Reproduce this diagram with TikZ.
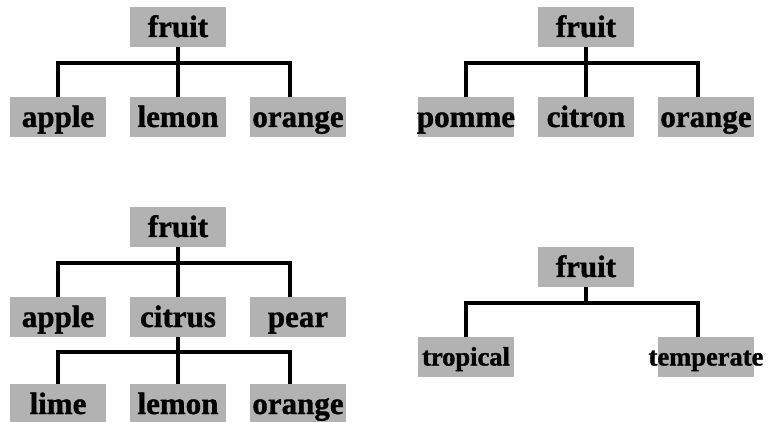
\documentclass[tikz,border=0pt]{standalone}
\usepackage{fontspec}
\setmainfont{Liberation Serif}[BoldFeatures={FakeBold=1.2}]
\begin{document}
\begin{tikzpicture}[x=1pt, y=-1pt,
    every node/.style={font=\fontsize{31}{36}\selectfont\bfseries},
    fruitbox/.style={fill=black!30, inner sep=0pt, minimum width=96pt, minimum height=40pt, text height=24pt, text depth=4pt},
    smallbox/.style={fruitbox, font=\fontsize{26.5}{30}\selectfont\bfseries, text height=20pt, text depth=3pt},
    branch/.style={line width=3.5pt}]
	\useasboundingbox (0,0) rectangle (769,422);
	
	% Tree 1: english names
	\node[fruitbox] (fruitA) at (178,27) {fruit};
	\node[fruitbox] (appleA) at (58,117) {apple};
	\node[fruitbox] (lemonA) at (178,117) {lemon};
	\node[fruitbox] (orangeA) at (298,117) {orange};
	\draw[branch] (fruitA.south) -- ++(0,16) -| (appleA.north);
	\draw[branch] (fruitA.south) -- (lemonA.north);
	\draw[branch] (fruitA.south) -- ++(0,16) -| ([xshift=-8pt]orangeA.north);
	
	% Tree 2: french names
	\node[fruitbox] (fruitB) at (586,27) {fruit};
	\node[fruitbox] (pommeB) at (466,117) {\makebox[0pt]{pomme}};
	\node[fruitbox] (citronB) at (586,117) {citron};
	\node[fruitbox] (orangeB) at (706,117) {orange};
	\draw[branch] (fruitB.south) -- ++(0,16) -| (pommeB.north);
	\draw[branch] (fruitB.south) -- (citronB.north);
	\draw[branch] (fruitB.south) -- ++(0,16) -| ([xshift=-8pt]orangeB.north);
	
	% Tree 3: two levels
	\node[fruitbox] (fruitC) at (178,227) {fruit};
	\node[fruitbox] (appleC) at (58,317) {apple};
	\node[fruitbox] (citrusC) at (178,317) {citrus};
	\node[fruitbox] (pearC) at (298,317) {pear};
	\draw[branch] (fruitC.south) -- ++(0,16) -| (appleC.north);
	\draw[branch] (fruitC.south) -- (citrusC.north);
	\draw[branch] (fruitC.south) -- ++(0,16) -| ([xshift=-8pt]pearC.north);
	
	\node[fruitbox] (limeC) at (58,404) {lime};
	\node[fruitbox] (lemonC) at (178,404) {lemon};
	\node[fruitbox] (orangeC) at (298,404) {orange};
	\draw[branch] (citrusC.south) -- ++(0,15) -| (limeC.north);
	\draw[branch] (citrusC.south) -- (lemonC.north);
	\draw[branch] (citrusC.south) -- ++(0,15) -| ([xshift=-8pt]orangeC.north);
	
	% Tree 4: climate
	\node[fruitbox] (fruitD) at (586,267) {fruit};
	\node[smallbox] (tropicalD) at (466,357) {tropical};
	\node[smallbox] (temperateD) at (706,357) {\makebox[0pt]{temperate}};
	\draw[branch] (fruitD.south) -- ++(0,16) -| (tropicalD.north);
	\draw[branch] (fruitD.south) -- ++(0,16) -| ([xshift=-8pt]temperateD.north);
	
\end{tikzpicture}
\end{document}
